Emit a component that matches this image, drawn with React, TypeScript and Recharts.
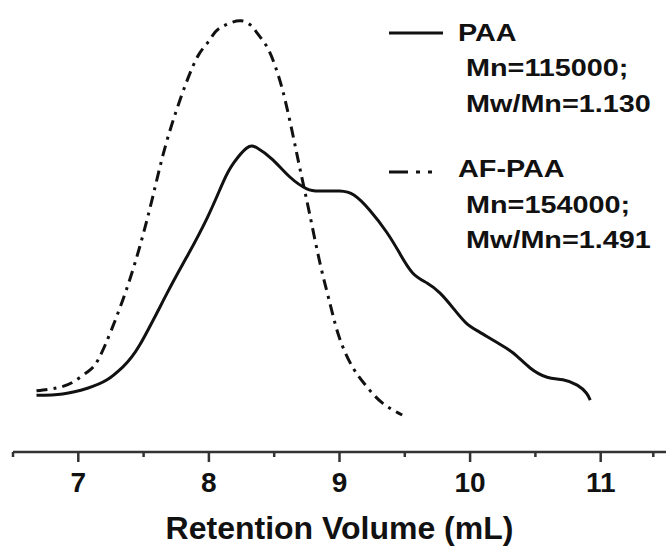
import { LineChart, Line, XAxis, YAxis } from 'recharts'

// retention volume (mL) / detector response (a.u.)
const pa_x = [6.68, 6.88, 7.07, 7.22, 7.34, 7.47, 7.68, 7.83, 7.99, 8.11, 8.19, 8.29, 8.37, 8.49, 8.62, 8.75, 8.85, 9.0, 9.11, 9.23, 9.36, 9.46, 9.56, 9.67, 9.77, 9.87, 9.97, 10.07, 10.2, 10.33, 10.46, 10.59, 10.71, 10.82, 10.89, 10.92]
const pa_y = [12.9, 13.2, 14.5, 16.4, 19.3, 24.3, 36.1, 44.3, 53.4, 61.4, 65.7, 69.1, 69.1, 66.4, 62.5, 59.8, 59.3, 59.3, 58.4, 55.0, 50.0, 45.2, 40.7, 38.4, 36.1, 32.7, 29.3, 27.3, 25.0, 22.5, 19.1, 17.0, 16.4, 15.2, 13.4, 11.8]

const af_x = [6.68, 6.84, 6.96, 7.07, 7.17, 7.34, 7.47, 7.57, 7.68, 7.82, 7.92, 7.99, 8.05, 8.11, 8.18, 8.25, 8.32, 8.38, 8.45, 8.51, 8.57, 8.64, 8.7, 8.77, 8.85, 8.93, 9.0, 9.1, 9.21, 9.33, 9.48]
const af_y = [13.9, 14.6, 15.9, 18.2, 22.0, 34.5, 46.6, 58.0, 70.9, 83.4, 90.2, 93.0, 95.5, 96.8, 97.7, 98.0, 97.0, 94.8, 91.8, 87.5, 81.6, 72.5, 64.0, 54.3, 43.0, 33.4, 25.9, 19.3, 14.8, 11.1, 8.4]

const MAJOR_TICKS = [7, 8, 9, 10, 11]
const MINOR_TICKS = [6.5, 7.5, 8.5, 9.5, 10.5, 11.5]

const paaData = pa_x.map((x, i) => ({ x, y: pa_y[i] }))
const afData = af_x.map((x, i) => ({ x, y: af_y[i] }))
const allTicks = [...MAJOR_TICKS, ...MINOR_TICKS].sort((a, b) => a - b)

const FONT = 'Arial, "Liberation Sans", Helvetica, sans-serif'
const INK = '#111'

function XTick({ x, y, payload }: any) {
  const major = MAJOR_TICKS.includes(payload.value)
  return (
    <g>
      <line x1={x} x2={x} y1={y} y2={y + (major ? 10 : 5)} stroke="#333" strokeWidth={2.5} />
      {major && (
        <text x={x} y={y + 40} textAnchor="middle" fontSize={28} fontWeight="bold" fontFamily={FONT} fill={INK}>
          {payload.value}
        </text>
      )}
    </g>
  )
}

function LegendOverlay() {
  const t = (x: number, y: number, s: string) => (
    <text
      x={0}
      y={0}
      transform={`translate(${x} ${y}) scale(1.2 1)`}
      fontSize={24}
      fontWeight="bold"
      fontFamily={FONT}
      fill={INK}
    >
      {s}
    </text>
  )
  return (
    <svg width={667} height={547} style={{ position: 'absolute', left: 0, top: 0, pointerEvents: 'none' }}>
      <line x1={389} x2={443} y1={33} y2={33} stroke={INK} strokeWidth={3} />
      {t(458, 41, 'PAA')}
      {t(466, 76, 'Mn=115000;')}
      {t(466, 112, 'Mw/Mn=1.130')}
      <line x1={389} x2={443} y1={172} y2={172} stroke={INK} strokeWidth={3} strokeDasharray="19 8 4 8 4 20" />
      {t(458, 177, 'AF-PAA')}
      {t(466, 213, 'Mn=154000;')}
      {t(466, 248, 'Mw/Mn=1.491')}
    </svg>
  )
}

export default function App() {
  return (
    <div style={{ position: 'fixed', left: 0, top: 0, width: 667, height: 547, background: '#fff' }}>
      <LineChart width={667} height={547} margin={{ top: 12, right: 1, left: 13, bottom: 0 }}>
        <XAxis
          dataKey="x"
          type="number"
          domain={[6.5, 11.5]}
          ticks={allTicks}
          allowDataOverflow
          height={95}
          tickSize={0}
          tickMargin={0}
          tickLine={false}
          tick={<XTick />}
          axisLine={{ stroke: '#333', strokeWidth: 2.5 }}
          label={{
            value: 'Retention Volume (mL)',
            position: 'insideBottom',
            offset: 8,
            style: { fontSize: 32, fontWeight: 'bold', fontFamily: FONT, fill: INK },
          }}
        />
        <YAxis hide domain={[0, 100]} type="number" />
        <Line
          data={afData}
          dataKey="y"
          type="natural"
          stroke={INK}
          strokeWidth={3}
          strokeDasharray="11 6 3 6"
          dot={false}
          isAnimationActive={false}
        />
        <Line
          data={paaData}
          dataKey="y"
          type="natural"
          stroke={INK}
          strokeWidth={3}
          dot={false}
          isAnimationActive={false}
        />
      </LineChart>
      <LegendOverlay />
    </div>
  )
}
